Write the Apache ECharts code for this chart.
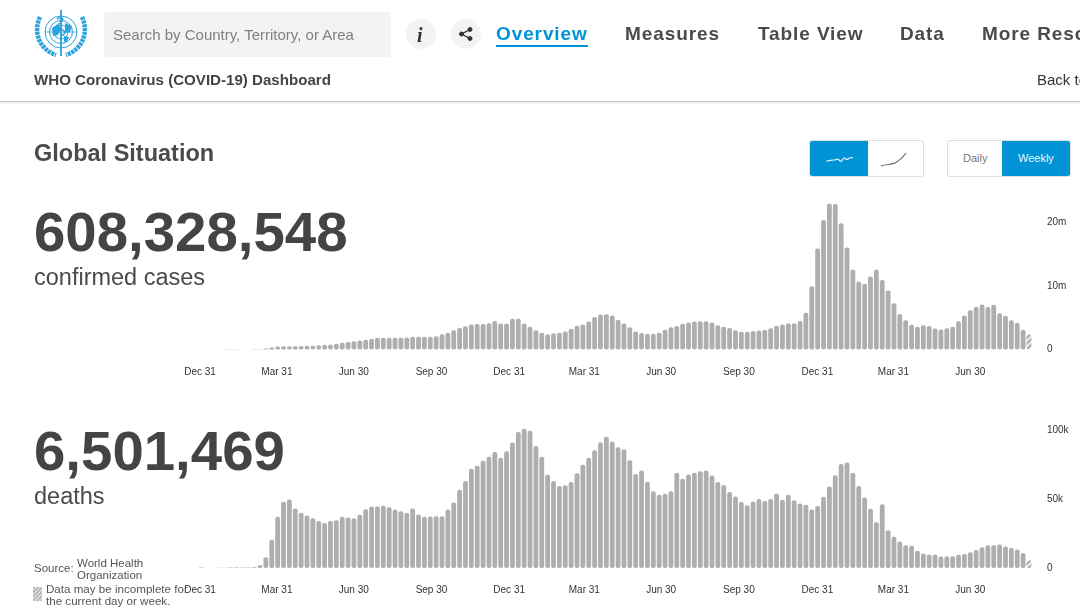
<!DOCTYPE html>
<html>
<head>
<meta charset="utf-8">
<title>WHO Coronavirus (COVID-19) Dashboard</title>
<script src="https://cdn.jsdelivr.net/npm/echarts@6/dist/echarts.min.js"></script>
<style>
html,body{margin:0;padding:0;width:1080px;height:612px;overflow:hidden;background:#fff;font-family:"Liberation Sans",Arial,sans-serif;color:#444}
#chart{position:absolute;left:0;top:0;width:1080px;height:612px}
.t{position:absolute;white-space:nowrap}
.nav{top:22px;font-size:19px;font-weight:bold;letter-spacing:.9px;line-height:24px;color:#4a4a4a}
.big{font-size:56.4px;font-weight:bold;line-height:60px;left:34px;color:#444}
.sub{font-size:23.5px;line-height:28px;left:34px;color:#4a4a4a}
.btn{position:absolute;box-sizing:border-box;top:140px;height:37px;border:1px solid #ddd;border-radius:3px;overflow:hidden;background:#fff}
.on{position:absolute;top:0;bottom:0;background:#0093d5}
.circle{position:absolute;top:19px;width:30px;height:30px;border-radius:15px;background:#f3f3f3}
#head{position:absolute;left:0;top:0;width:1080px;height:101px;border-bottom:1px solid #ccc;box-shadow:0 1px 2px #ddd;overflow:hidden}
</style>
</head>
<body>
<div id="chart"></div>
<div id="head">
  <svg style="position:absolute;left:32px;top:9px" width="58" height="50" viewBox="0 0 58 50" fill="none" stroke="#2ba3dc">
    <circle cx="29" cy="23" r="16" stroke-width="1"/>
    <circle cx="29" cy="23" r="11.5" stroke-width="1"/>
    <circle cx="29" cy="23" r="7" stroke-width="1"/>
    <path d="M13 23H45M29 7V39" stroke-width=".8"/>
    <path d="M20 19l6-4 3 5-3 6-5 1zM33 14l7 3-2 6-5 1zM32 27l5 1-3 6-2-2z" fill="#2ba3dc" stroke="none"/>
    <path d="M29 1V47" stroke-width="1.8"/>
    <path d="M25 10c5-3 8 0 4 3s-5 5 0 7 5 5 0 7" stroke-width="1.5"/>
    <path d="M8 8C1 23 7 40 24 46M50 8C57 23 51 40 34 46" stroke-width="4.5" stroke-dasharray="3 .8"/>
  </svg>
  <div style="position:absolute;left:104px;top:12px;width:287px;height:45px;background:#f3f3f3;border-radius:3px"></div>
  <div class="t" style="left:113px;top:25px;font-size:15px;line-height:20px;color:#808080">Search by Country, Territory, or Area</div>
  <div class="circle" style="left:406px"></div>
  <div class="t" style="left:417px;top:23px;font:italic bold 20px/24px 'Liberation Serif',serif;color:#333">i</div>
  <div class="circle" style="left:451px"></div>
  <svg style="position:absolute;left:459px;top:27px" width="14" height="14" viewBox="0 0 14 14" fill="#333" stroke="#333">
    <circle cx="11" cy="2.5" r="2"/><circle cx="2.5" cy="7" r="2"/><circle cx="11" cy="11.5" r="2"/>
    <path d="M11 2.5L2.5 7L11 11.5" stroke-width="1.4" fill="none"/>
  </svg>
  <div class="t nav" style="left:496px;color:#0093d5">Overview</div>
  <div style="position:absolute;left:496px;top:45px;width:92px;height:2px;background:#0093d5"></div>
  <div class="t nav" style="left:625px">Measures</div>
  <div class="t nav" style="left:758px">Table View</div>
  <div class="t nav" style="left:900px">Data</div>
  <div class="t nav" style="left:982px">More Resources</div>
  <div class="t" style="left:34px;top:71px;font-size:15.1px;font-weight:bold;line-height:18px;color:#444">WHO Coronavirus (COVID-19) Dashboard</div>
  <div class="t" style="left:1037px;top:71px;font-size:15px;line-height:18px;color:#333">Back to top</div>
</div>
<div class="t" style="left:34px;top:138px;font-size:23.5px;font-weight:bold;line-height:30px;color:#4a4a4a">Global Situation</div>
<div class="btn" style="left:809px;width:115px">
  <div class="on" style="left:0;width:58px"></div>
  <svg style="position:absolute;left:0;top:0" width="115" height="34" fill="none" stroke-width="1.2">
    <path d="M16 20c4 0 5-1 8-1s3-2 5 0 2 2 4-1 3 2 5 0 3-2 5-1" stroke="#dff2fb"/>
    <path d="M71 25c5-2 10-1 14-3s8-6 11-10" stroke="#666"/>
  </svg>
</div>
<div class="btn" style="left:947px;width:124px">
  <div class="on" style="left:54px;right:0"></div>
  <div class="t" style="left:15px;top:10px;font-size:11px;line-height:14px;color:#777">Daily</div>
  <div class="t" style="left:70px;top:10px;font-size:11px;line-height:14px;color:#e8f6fc">Weekly</div>
</div>
<div class="t big" style="top:202px">608,328,548</div>
<div class="t sub" style="top:263px">confirmed cases</div>
<div class="t big" style="top:421px">6,501,469</div>
<div class="t sub" style="top:482px">deaths</div>
<div class="t" style="left:34px;top:561px;font-size:11.5px;line-height:14px;color:#555">Source:</div>
<div class="t" style="left:77px;top:558px;font-size:11.5px;line-height:11.5px;color:#555">World Health<br>Organization</div>
<svg style="position:absolute;left:33px;top:587px" width="9" height="14">
  <defs><pattern id="h" width="3" height="3" patternUnits="userSpaceOnUse" patternTransform="rotate(45)"><rect width="3" height="3" fill="#e4e4e4"/><rect width="1.5" height="3" fill="#aaa"/></pattern></defs>
  <rect width="9" height="14" fill="url(#h)"/>
</svg>
<div class="t" style="left:46px;top:583px;font-size:11.6px;line-height:11.5px;color:#555">Data may be incomplete for<br>the current day or week.</div>

<script>
// weekly values, oldest week first
var casesM = [0,0,0.01,0.01,0.02,0.02,0.02,0.01,0.01,0.02,0.05,0.15,0.3,0.47,0.5,0.52,0.5,0.55,0.58,0.6,
  0.65,0.75,0.8,0.9,1.05,1.2,1.3,1.4,1.55,1.7,1.85,1.85,1.85,1.85,1.85,1.9,2,2,2,2,
  2.1,2.4,2.65,3.05,3.4,3.65,3.95,4,4,4.15,4.5,4.1,4.1,4.85,4.85,4.1,3.6,3.05,2.65,2.4,
  2.55,2.65,2.85,3.25,3.75,3.95,4.4,5.1,5.5,5.55,5.35,4.7,4.1,3.5,2.85,2.6,2.5,2.5,2.65,3.1,
  3.5,3.7,4.05,4.25,4.4,4.45,4.45,4.25,3.8,3.6,3.4,3.05,2.8,2.8,2.9,3,3.1,3.35,3.75,3.95,
  4.15,4.15,4.5,5.8,9.95,15.9,20.4,23,22.9,19.9,16.05,12.6,10.7,10.35,11.5,12.6,10.95,9.3,7.3,5.6,
  4.6,3.9,3.6,3.8,3.7,3.3,3.15,3.35,3.6,4.45,5.35,6.2,6.7,7.1,6.7,7.05,5.7,5.3,4.6,4.2,
  3.1,2.35];
var deathsK = [0.3,0,0.03,0.1,0.2,0.3,0.4,0.4,0.4,0.5,2,7.8,20.4,37,48,49.6,43,40,38,36,
  34,32.6,34,34.5,37,36.5,36,38.5,42.6,44.5,44.5,45,44,42.3,41,40,43,38.7,37,37.2,
  37.5,37.5,42.3,47.4,56.7,63,71.8,74,77.6,80.5,84,79.8,84.4,90.8,98.5,100.8,99.3,88.3,80.5,67.4,
  63,59.4,59.9,62.3,68.6,74.7,79.8,85.2,91,95,91.5,87.3,85.9,77.9,68,70.6,62.5,55.5,53,53.8,
  55.5,68.9,64.5,67.6,68.9,70,70.6,67,62.3,60,55,51.8,47.7,45.5,48.2,49.9,48.4,49.9,54,49.4,
  53,49.1,46.7,45.7,42.3,44.8,51.6,58.9,67.2,75.2,76.4,68.9,59.4,51.1,42.8,33.1,46.2,27.3,22.6,19.2,
  16.5,16.1,12.4,10.5,9.7,9.7,8.3,8.5,8.5,9.5,10.2,11.4,13.1,15.1,16.5,16.5,17,15.6,14.4,13.4,
  10.9,5.6];
// days since Dec 31 2019, each one a quarter end
var tickDays = [0,91,182,274,366,455,546,638,731,821,912];
var tickLabels = ['Dec 31','Mar 31','Jun 30','Sep 30','Dec 31','Mar 31','Jun 30','Sep 30','Dec 31','Mar 31','Jun 30'];
var casesTicks = [0,10,20];
var deathsTicks = [0,50,100];

var barColor = '#afadad';
var weeks = casesM.map(function(v,i){ return i; });

// last week is still incomplete, so it gets the hatched look
function barData(values){
  return values.map(function(v,i){
    if(i < values.length-1) return v;
    return {value:v, itemStyle:{color:'#eeeeee', decal:{symbol:'rect', symbolSize:1, color:'#a8a8a8', dashArrayX:[1,0], dashArrayY:[1.5,2], rotation:-Math.PI/4}}};
  });
}
function hiddenX(grid){
  return {type:'category', gridIndex:grid, data:weeks, show:false};
}
function dateX(grid,margin){
  return {
    type:'value', gridIndex:grid, position:'bottom', min:-2, max:985,
    axisLine:{show:false}, axisTick:{show:false}, splitLine:{show:false},
    axisLabel:{
      customValues:tickDays, margin:margin, fontSize:10, color:'#333', hideOverlap:false,
      fontFamily:'Liberation Sans',
      formatter:function(v){ return tickLabels[tickDays.indexOf(v)]; }
    }
  };
}
function valueY(grid,max,ticks,unit){
  return {
    type:'value', gridIndex:grid, position:'right', min:0, max:max,
    axisLine:{show:false}, axisTick:{show:false}, splitLine:{show:false},
    axisLabel:{
      customValues:ticks, margin:15, fontSize:10, color:'#333', align:'left',
      fontFamily:'Liberation Sans',
      formatter:function(v){ return v === 0 ? '0' : v + unit; }
    }
  };
}
function barSeries(values,axis){
  return {
    type:'bar', data:barData(values), xAxisIndex:axis, yAxisIndex:axis/2,
    barWidth:4.8, itemStyle:{color:barColor, borderRadius:2}, silent:true, animation:false
  };
}

var chart = echarts.init(document.getElementById('chart'));
chart.setOption({
  animation:false,
  grid:[
    {left:198.4, width:833.5, top:190.75, height:158.75},
    {left:198.4, width:833.5, top:416, height:152}
  ],
  xAxis:[hiddenX(0), dateX(0,18), hiddenX(1), dateX(1,17)],
  yAxis:[valueY(0,25,casesTicks,'m'), valueY(1,110,deathsTicks,'k')],
  series:[barSeries(casesM,0), barSeries(deathsK,2)]
});
</script>
</body>
</html>
